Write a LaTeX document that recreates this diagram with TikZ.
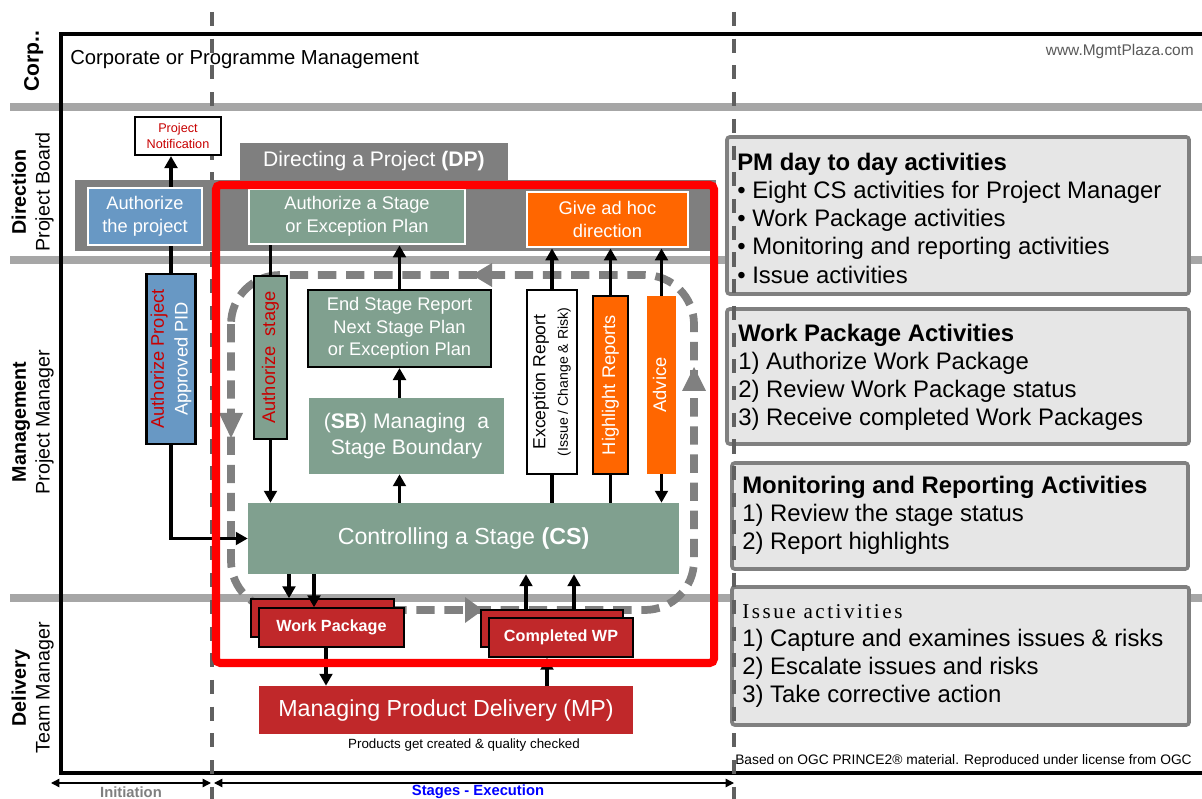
\documentclass[tikz,border=0pt]{standalone}
\usepackage{fontspec}
\setmainfont{Liberation Sans}
\newfontfamily\timesfont{Liberation Serif}
\usetikzlibrary{arrows.meta,calc,positioning}

\definecolor{stagegreen}{RGB}{128,160,143}
\definecolor{pidblue}{RGB}{104,152,196}
\definecolor{dporange}{RGB}{255,102,0}
\definecolor{mpred}{RGB}{192,40,42}
\definecolor{bandgray}{RGB}{127,127,127}
\definecolor{lanegray}{RGB}{166,166,166}
\definecolor{dashgray}{RGB}{96,96,96}
\definecolor{loopgray}{RGB}{128,128,128}
\definecolor{boxgray}{RGB}{230,230,230}
\definecolor{notered}{RGB}{200,0,0}
\definecolor{sitegray}{RGB}{89,89,89}

\newcommand{\fsz}[2]{\fontsize{#1}{#2}\selectfont}
\newcommand{\vtext}[1]{\rotatebox{90}{\begin{tabular}{@{}c@{}}#1\end{tabular}}}

\tikzset{
	boxsize/.style 2 args={minimum width=#1*0.025cm, minimum height=#2*0.025cm},
	proc/.style={inner sep=0pt, align=center, text=white, font=\fsz{13}{16}},
	greenbox/.style={proc, fill=stagegreen},
	bluebox/.style={proc, fill=pidblue},
	orangebox/.style={proc, fill=dporange},
	wpbox/.style={proc, fill=mpred, draw=black, line width=1pt, font=\bfseries\fsz{11.5}{14}},
	dpbox/.style={draw=white, line width=2pt},
	tallbox/.style={draw=black, line width=1.5pt},
	lane/.style={draw=lanegray, line width=5pt},
	lanelabel/.style={inner sep=0pt, font=\fsz{14}{17}},
	flow/.style={line width=2.8pt, -{Triangle[length=8.5pt,width=9pt]}},
	link/.style={line width=2.8pt},
	span/.style={line width=1pt, {Triangle[length=6pt,width=6pt]}-{Triangle[length=6pt,width=6pt]}},
	stagedash/.style={draw=dashgray, line width=2.5pt, dash pattern=on 10pt off 9pt},
	loopline/.style={draw=loopgray, line width=5.5pt, dash pattern=on 13pt off 7pt},
	notebox/.style={fill=boxgray, draw=loopgray, line width=2.6pt, rounded corners=2pt},
	notetext/.style={anchor=north west, inner sep=0pt, align=left, font=\fsz{17}{20}},
}

\begin{document}
\begin{tikzpicture}[x=0.025cm, y=-0.025cm]
	\useasboundingbox (0,0) rectangle (1202,799);
	\clip (0,0) rectangle (1202,799);
	\fill[white] (0,0) rectangle (1202,799);

	% swim lanes
	\foreach \y in {107,260,598}
		\draw[lane] (10,\y) -- (1202,\y);
	\draw[line width=2.4pt] (1202,34) -- (61,34) -- (61,773) -- (1202,773);

	\node[lanelabel, font=\fsz{15}{17}] (corp) at (34,61) {\vtext{\textbf{Corp..}}};
	\node[lanelabel] (direction) at (33,192) {\vtext{\textbf{Direction}\\Project Board}};
	\node[lanelabel] (management) at (33,422) {\vtext{\textbf{Management}\\Project Manager}};
	\node[lanelabel] (delivery) at (33,688) {\vtext{\textbf{Delivery}\\Team Manager}};

	\node[anchor=west, inner sep=0pt, font=\fsz{14.4}{16}] (corptext) at (70,60) {Corporate or Programme Management};
	\node[anchor=east, inner sep=0pt, font=\fsz{11}{13}, text=sitegray] (site) at (1194,52) {www.MgmtPlaza.com};

	% activity notes on the right
	\node[notebox, boxsize={462}{157}] (pmbox) at (958,215.5) {};
	\node[notebox, boxsize={462}{135}] (wpabox) at (958,376.5) {};
	\node[notebox, boxsize={456}{106}] (mrbox) at (960,516) {};
	\node[notebox, boxsize={457}{138}] (issuebox) at (960.5,656) {};

	\node[notetext] (pmtext) at (737,153) {\textbf{PM day to day activities}\\
		• Eight CS activities for Project Manager\\
		• Work Package activities\\
		• Monitoring and reporting activities\\
		• Issue activities};
	\node[notetext] (wpatext) at (738,324) {\textbf{Work Package Activities}\\
		1) Authorize Work Package\\
		2) Review Work Package status\\
		3) Receive completed Work Packages};
	\node[notetext] (mrtext) at (742,476) {\textbf{Monitoring and Reporting Activities}\\
		1) Review the stage status\\
		2) Report highlights};
	\node[notetext] (issuetext) at (742,604) {{\timesfont\fsz{15}{20}\addfontfeatures{LetterSpace=12}Issue activities}\\
		1) Capture and examines issues \& risks\\
		2) Escalate issues and risks\\
		3) Take corrective action};

	\node[anchor=west, inner sep=0pt, font=\fsz{9.8}{11}] (ogc) at (735,761) {Based on OGC PRINCE2® material. Reproduced under license from OGC};

	% initiation / stages
	\draw[stagedash] (212,12) -- (212,799);
	\draw[stagedash] (734,12) -- (734,799);

	\coordinate (initL) at (51,783);
	\coordinate (initR) at (211,783);
	\coordinate (execL) at (214,783);
	\coordinate (execR) at (734,783);
	\draw[span] (initL) -- (initR);
	\draw[span] (execL) -- (execR);
	\node[inner sep=0pt, font=\bfseries\fsz{10.5}{12}, text=bandgray] (initlbl) at (131,792) {Initiation};
	\node[inner sep=0pt, font=\bfseries\fsz{10.5}{12}, text=blue] (execlbl) at (478,792) {Stages - Execution};

	% directing a project
	\node[proc, fill=bandgray, boxsize={641}{71}] (dpband) at (395.5,215.5) {};
	\node[proc, fill=bandgray, font=\fsz{15}{17}, boxsize={268}{37}] (dptab) at (374,161.5) {Directing a Project \textbf{(DP)}};
	\node[proc, fill=white, text=notered, draw=black, line width=1.5pt, font=\fsz{9}{11}, boxsize={86}{38}] (notif) at (178,136) {Project\\Notification};
	\node[bluebox, dpbox, boxsize={114}{57}] (authproj) at (145,216.5) {Authorize\\the project};
	\node[greenbox, dpbox, boxsize={216}{55}] (authstg) at (357,216.5) {Authorize a Stage\\or Exception Plan};
	\node[orangebox, dpbox, boxsize={161}{55}] (adhoc) at (607.5,219.5) {Give ad hoc\\direction};

	% stage loop
	\draw[loopline, rounded corners=35pt] (231,275) rectangle (694,610);
	\fill[loopgray] (472,275) -- (492,263) -- (492,287) -- cycle;
	\fill[loopgray] (231,438) -- (219,413) -- (243,413) -- cycle;
	\fill[loopgray] (694,367) -- (682,391) -- (706,391) -- cycle;
	\fill[loopgray] (483,610) -- (465,597) -- (465,623) -- cycle;

	% managing a stage
	\node[bluebox, tallbox, font=\fsz{13}{17}, boxsize={49}{170}] (pid) at (171,359) {\vtext{\textcolor{notered}{Authorize Project}\\Approved PID}};
	\node[greenbox, tallbox, boxsize={33}{163}] (authsg) at (270.5,357.5) {\vtext{\textcolor{notered}{Authorize\ \ stage}}};
	\node[greenbox, tallbox, boxsize={183}{77}] (esr) at (399.5,328.5) {End Stage Report\\Next Stage Plan\\or Exception Plan};
	\node[greenbox, font=\fsz{15}{18.5}, boxsize={195}{76}] (sb) at (406.5,436) {(\textbf{SB}) Managing\ \ a\\Stage Boundary};
	\node[proc, tallbox, fill=white, text=black, boxsize={50}{184}] (exc) at (552,382) {\vtext{\fsz{12.5}{15}Exception Report\\\fsz{10}{12}(Issue / Change \& Risk)}};
	\node[orangebox, tallbox, boxsize={35}{178}] (hr) at (610.5,385) {\vtext{Highlight Reports}};
	\node[orangebox, boxsize={29}{178}] (adv) at (661.5,385) {\vtext{Advice}};
	\node[greenbox, font=\fsz{16.5}{20}, boxsize={431}{71}] (cs) at (463.5,538.5) {Controlling a Stage \textbf{(CS)}};

	% work packages and delivery
	\node[wpbox, boxsize={143}{38}] (wpback) at (322.5,618) {};
	\node[wpbox, boxsize={145}{39}] (wp) at (331.5,627.5) {Work Package};
	\node[wpbox, boxsize={142}{37}] (cwpback) at (552,628.5) {};
	\node[wpbox, boxsize={144}{39}] (cwp) at (561,637.5) {Completed WP};
	\node[proc, fill=mpred, font=\fsz{16.5}{20}, boxsize={374}{48}] (mp) at (446,710) {Managing Product Delivery (MP)};
	\node[inner sep=0pt, font=\fsz{9.5}{11}] (mptext) at (464,745) {Products get created \& quality checked};

	\coordinate (wpcolA) at (289,0);
	\coordinate (wpcolB) at (314,0);
	\coordinate (cwpcolA) at (526,0);
	\coordinate (cwpcolB) at (574,0);
	\coordinate (mpin) at (326,0);
	\coordinate (mpout) at (547,0);

	% connectors
	\draw[flow] (authproj.north -| pid.north) -- (notif.south -| pid.north);
	\draw[link] (authproj.south -| pid.north) -- (pid.north);
	\draw[flow] (pid.south) |- (cs.west);
	\draw[link] (authstg.south -| authsg.north) -- (authsg.north);
	\draw[flow] (authsg.south) -- (authsg.south |- cs.north);
	\draw[flow] (esr.north) -- (esr.north |- authstg.south);
	\draw[flow] (sb.north -| esr.north) -- (esr.south);
	\draw[flow] (cs.north -| esr.north) -- (sb.south -| esr.north);
	\draw[link] (cs.north -| exc.south) -- (exc.south);
	\draw[flow] (exc.north) -- (exc.north |- adhoc.south);
	\draw[link] (cs.north -| hr.south) -- (hr.south);
	\draw[flow] (hr.north) -- (hr.north |- adhoc.south);
	\draw[flow] (adv.north) -- (adv.north |- adhoc.south);
	\draw[flow] (adv.south) -- (adv.south |- cs.north);
	\draw[flow] (cs.south -| wpcolA) -- (wpback.north -| wpcolA);
	\draw[flow] (cs.south -| wpcolB) -- (wp.north -| wpcolB);
	\draw[flow] (cwpback.north -| cwpcolA) -- (cs.south -| cwpcolA);
	\draw[flow] (cwpback.north -| cwpcolB) -- (cs.south -| cwpcolB);
	\draw[flow] (wp.south -| mpin) -- (mp.north -| mpin);
	\draw[flow] (mp.north -| mpout) -- (cwp.south -| mpout);

	% stage frame
	\draw[red, line width=5.7pt, rounded corners=3pt] (216,185) rectangle (714,663);
\end{tikzpicture}
\end{document}
